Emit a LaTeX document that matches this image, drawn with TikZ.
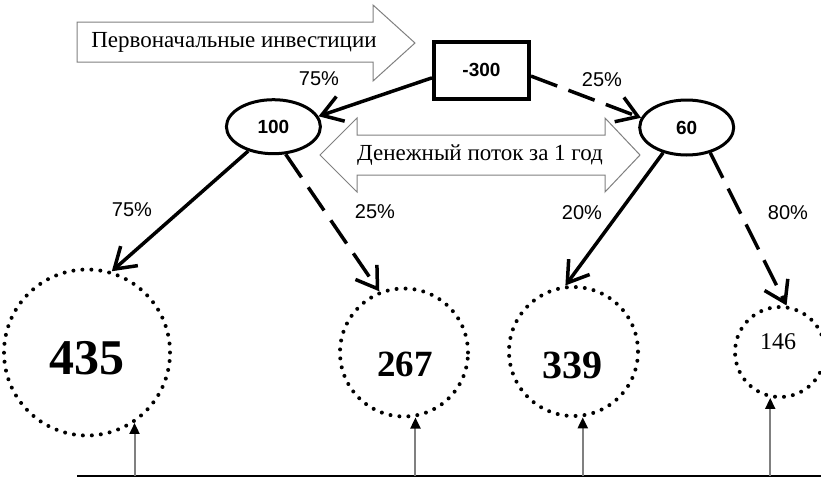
\documentclass[tikz,border=0pt]{standalone}
\usepackage{fontspec}
\setmainfont{Liberation Serif}
\newfontfamily\lsans{Liberation Sans}
\usetikzlibrary{arrows.meta,shapes.geometric,calc}
\begin{document}
\begin{tikzpicture}[x=1pt,y=-1pt,
  blk/.style={line width=3.5pt, -{Straight Barb[length=20pt,width=26pt]}},
  dsh/.style={blk, dash pattern=on 28pt off 12pt},
  dotc/.style={circle, draw, line width=4pt, dash pattern=on 0pt off 9pt, line cap=round, inner sep=0pt},
  ell/.style={ellipse, draw, line width=3pt, inner sep=0pt, font=\lsans\bfseries\fontsize{19}{19}\selectfont},
  pct/.style={font=\lsans\fontsize{20}{20}\selectfont},
  garr/.style={draw=gray, line width=2pt, -{Triangle[length=11pt,width=10pt,color=black]}},
  blockarr/.style={draw=gray, line width=1pt, fill=white},
  atext/.style={font=\fontsize{23}{23}\selectfont},
  bignum/.style={font=\bfseries\fontsize{#1}{#1}\selectfont}
]
\useasboundingbox (0,0) rectangle (821,477);
\clip (0,0) rectangle (821,477);

% block arrows
\draw[blockarr] (77,22) -- (373,22) -- (373,5) -- (415,43) -- (373,81) -- (373,62) -- (77,62) -- cycle;
\node[atext] (t1) at (234,42) {Первоначальные инвестиции};
\draw[blockarr] (320,155) -- (357,118) -- (357,135) -- (605,135) -- (605,118) -- (640,155)
  -- (605,192) -- (605,175) -- (357,175) -- (357,192) -- cycle;
\node[atext] (t2) at (480,155) {Денежный поток за 1 год};

% top nodes
\node[draw, line width=4pt, minimum width=95pt, minimum height=57pt, inner sep=0pt,
  font=\lsans\bfseries\fontsize{19}{19}\selectfont] (box) at (481.5,70) {-300};
\node[ell, minimum width=94pt, minimum height=54pt] (e100) at (273.4,126.7) {100};
\node[ell, minimum width=94pt, minimum height=55pt] (e60) at (686.7,127.5) {60};

% dotted circles
\node[dotc, minimum size=166pt] (c435) at (87,352.5) {};
\node[dotc, minimum size=128pt] (c267) at (404,352.5) {};
\node[dotc, minimum size=129pt] (c339) at (573.5,351.5) {};
\node[dotc, minimum size=90pt] (c146) at (780,352) {};
\node[bignum=50] (n435) at (87,358) {435};
\node[bignum=37] (n267) at (405,364) {267};
\node[bignum=40] (n339) at (572.5,365) {339};
\node[font=\fontsize{24}{24}\selectfont] (n146) at (778,342) {146};

% connectors
\draw[blk] (box.189) -- (e100.13);
\draw[dsh] (box.353) -- (e60.168);
\draw[blk] (e100.224) -- (c435.73);
\draw[dsh] (e100.294) -- (c267.112);
\draw[blk] (e60.227) -- (c339.97);
\draw[dsh] (e60.313) -- (c146.82);

% percent labels
\node[pct] (p1) at (319,79) {75\%};
\node[pct] (p2) at (602,80) {25\%};
\node[pct] (p3) at (132,210) {75\%};
\node[pct] (p4) at (375,212) {25\%};
\node[pct] (p5) at (582,213) {20\%};
\node[pct] (p6) at (788,213) {80\%};

% base line and gray arrows
\coordinate (bl) at (77,476);
\coordinate (br) at (821,476);
\draw[line width=1.5pt] (bl) -- (br);
\draw[garr] (c435.304 |- bl) -- (c435.304);
\draw[garr] (c267.280 |- bl) -- (c267.280);
\draw[garr] (c339.278 |- bl) -- (c339.278);
\draw[garr] (c146.258 |- bl) -- (c146.258);
\end{tikzpicture}
\end{document}
